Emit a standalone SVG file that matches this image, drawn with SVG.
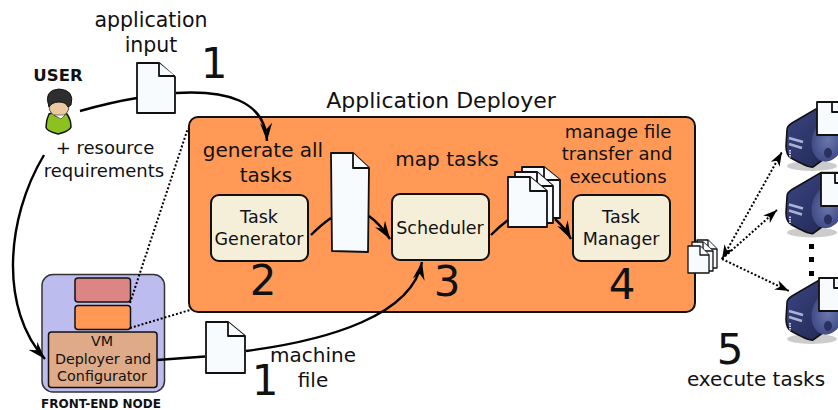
<svg xmlns="http://www.w3.org/2000/svg" width="838" height="410" viewBox="0 0 838 410">
<style>
text{font-family:"DejaVu Sans",sans-serif;fill:#111;text-anchor:middle}
.l{font-size:20.5px}.m{font-size:20px}.s{font-size:18px}.n{font-size:17.5px}.d1{font-size:14.3px}.num{font-size:42px}
.b{font-weight:bold;font-size:16.5px}.b2{font-weight:bold;font-size:12px}
.c{fill:none;stroke:#000;stroke-width:2.4}
.d{fill:none;stroke:#000;stroke-width:2;stroke-dasharray:2 2}
.doc{fill:#f8fbfd;stroke:#111;stroke-width:1.8;stroke-linejoin:round}
.mini{fill:#f8fbfd;stroke:#111;stroke-width:1.3;stroke-linejoin:round}
.task{fill:#f5eed8;stroke:#111;stroke-width:2}
</style>
<defs>
<marker id="a" markerWidth="20" markerHeight="14" refX="18" refY="7" orient="auto" markerUnits="userSpaceOnUse"><path d="M0 1L18 7L0 13L6 7Z" fill="#000"/></marker>
<marker id="a2" markerWidth="16" markerHeight="12" refX="14" refY="6" orient="auto-start-reverse" markerUnits="userSpaceOnUse"><path d="M0 1L14 6L0 11L4 6Z" fill="#000"/></marker>
<linearGradient id="sv" x1="0" y1="0" x2="1" y2="1"><stop offset="0" stop-color="#3b4684"/><stop offset="1" stop-color="#20264f"/></linearGradient>
<radialGradient id="sv2"><stop offset="0" stop-color="#6a76aa"/><stop offset="1" stop-color="#414c88"/></radialGradient>
<g id="server">
<ellipse cx="812" cy="166" rx="25" ry="5" fill="#999" opacity=".5"/>
<path d="M787 130Q787 126 792 123L821 106L838 106V149L813 167Q809 168 791 158Q786 155 786 146Z" fill="url(#sv)" stroke="#111" stroke-width="1.6"/>
<ellipse cx="828" cy="140" rx="16" ry="22" fill="url(#sv2)" transform="rotate(15 828 140)"/>
<path d="M789 138L803 142M789 144L802 148" stroke="#aab3d6" stroke-width="2.6" fill="none"/>
<path d="M790 150V158" stroke="#c9cfe5" stroke-width="2" stroke-dasharray="1.5 1"/>
<ellipse cx="828" cy="153" rx="4" ry="5" fill="#2a3160"/>
</g>
</defs>
<rect width="838" height="410" fill="#fff"/>
<g id="deployer">
<rect x="189" y="117" width="506" height="195" rx="9" fill="#ff9955" stroke="#111" stroke-width="2"/>
<text x="441" y="108" style="font-size:22px">Application Deployer</text>
<text class="m" x="263" y="157">generate all</text><text class="m" x="266" y="182">tasks</text>
<text class="m" x="447" y="166">map tasks</text>
<text class="s" x="618" y="138">manage file</text><text class="s" x="617" y="160">transfer and</text><text class="s" x="618" y="183">executions</text>
</g>
<g id="task-generator"><rect class="task" x="211" y="195" width="97" height="66" rx="8"/><text class="n" x="259" y="223">Task</text><text class="n" x="259" y="245">Generator</text><text class="num" x="263" y="295">2</text></g>
<g id="scheduler"><rect class="task" x="392" y="194" width="97" height="66" rx="8"/><text class="n" x="440" y="234">Scheduler</text><text class="num" x="447" y="296">3</text></g>
<g id="task-manager"><rect class="task" x="573" y="195" width="97" height="66" rx="8"/><text class="n" x="621" y="223">Task</text><text class="n" x="621" y="245">Manager</text><text class="num" x="622" y="299">4</text></g>
<g id="doc-tall"><path class="doc" d="M331 153H353L369 168L368 252L332 251Z"/><path class="doc" d="M353 153V168H369"/></g>
<g id="docs-stack">
<path class="doc" d="M522 167H544L560 180V218H522Z"/><path class="doc" d="M544 167V180H560"/>
<path class="doc" d="M515 172H537L553 186V223H515Z"/><path class="doc" d="M537 172V186H553"/>
<path class="doc" d="M508 177H530L547 191V227H508Z"/><path class="doc" d="M530 177V191H547"/>
</g>
<g id="doc-input"><path class="doc" d="M137 63H159L175 77V113H137Z"/><path class="doc" d="M159 63V76H175"/></g>
<g id="doc-machine"><path class="doc" d="M206 322H228L245 336V373H206Z"/><path class="doc" d="M228 322V336H245"/></g>
<g id="docs-small">
<path class="mini" d="M697 240H708L717 249V268H697Z"/><path class="mini" d="M708 240V249H717"/>
<path class="mini" d="M692 242H703L713 251V271H692Z"/><path class="mini" d="M703 242V251H713"/>
<path class="mini" d="M688 246H700L709 255V273H688Z"/><path class="mini" d="M700 246V255H709"/>
</g>
<g id="user">
<text class="b" x="58" y="81">USER</text>
<path d="M49 114Q58 110 67 114Q71 120 71 127Q70 131 58 134Q46 131 46 127Q46 120 49 114Z" fill="#8cc21f" stroke="#111" stroke-width="1.5"/>
<ellipse cx="59" cy="106" rx="10" ry="11" fill="#edc9a0" stroke="#333" stroke-width=".8"/>
<path d="M54 115L61 119L65 115Z" fill="#fff" stroke="#333" stroke-width=".6"/>
<path d="M49 107Q43 90 59 89Q75 90 71 105L68 107Q66 102 59 102Q52 102 49 107Z" fill="#2e2e2e" stroke="#111"/>
<text class="s" x="105" y="154">+ resource</text><text class="s" x="104" y="177">requirements</text>
</g>
<g id="labels">
<text class="l" x="151" y="27">application</text><text class="l" x="151" y="52">input</text>
<text class="num" x="214" y="78">1</text><text class="num" x="265" y="395">1</text>
<text class="m" x="313" y="362">machine</text><text class="m" x="313" y="387">file</text>
<text class="num" x="730" y="364">5</text><text class="m" x="756" y="386">execute tasks</text>
</g>
<g id="front-end">
<rect x="42" y="274.500" width="122.500" height="117.500" rx="11" fill="#bcbcee" stroke="#333" stroke-width="1.5"/>
<rect x="75" y="278" width="55.500" height="24" rx="3" fill="#dc8585" stroke="#111" stroke-width="1.5"/>
<rect x="75" y="305.500" width="55.500" height="24" rx="3" fill="#ff9955" stroke="#111" stroke-width="1.5"/>
<rect x="48.500" y="332" width="108.500" height="55.500" rx="3" fill="#deaa87" stroke="#111" stroke-width="1.5"/>
<text class="d1" x="102" y="346">VM</text><text class="d1" x="103" y="364">Deployer and</text><text class="d1" x="102" y="381">Configurator</text>
<text class="b2" x="101" y="408">FRONT-END NODE</text>
</g>
<g id="server-1"><use href="#server"/><path class="doc" d="M817 102H840V135H817Z"/><path class="doc" d="M832 102V112H840"/></g>
<g id="server-2"><use href="#server" y="66.500"/><path class="doc" d="M821 173H840V206H821Z"/><path class="doc" d="M835 173V183H840"/></g>
<g id="server-3"><use href="#server" y="173"/><path class="doc" d="M819 278H840V311H819Z"/><path class="doc" d="M834 278V288H840"/></g>
<g id="dots"><rect x="809" y="244" width="5" height="5"/><rect x="809" y="257" width="5" height="5"/><rect x="809" y="271" width="5" height="5"/></g>
<g id="connectors">
<path class="c" d="M80 111Q112 102 137 98"/>
<path class="c" d="M176 93C225 90 265 100 267 141" marker-end="url(#a)"/>
<path class="c" d="M44 155C5 220 0 310 45 359" marker-end="url(#a)"/>
<path class="c" d="M157 360L205 356.500"/>
<path class="c" d="M246 351C330 340 412 315 422 262" marker-end="url(#a)"/>
<path class="c" d="M311 235Q322 224 331 218"/>
<path class="c" d="M369 216Q380 224 390 239" marker-end="url(#a)"/>
<path class="c" d="M491 235Q500 226 508 220"/>
<path class="c" d="M555 219Q565 228 571 239" marker-end="url(#a)"/>
<path class="d" d="M130 303L188 128M130 328L190 310"/>
<path class="d" d="M722 259L782 152" marker-end="url(#a2)" marker-start="url(#a2)"/>
<path class="d" d="M722 259L777 210" marker-end="url(#a2)"/>
<path class="d" d="M722 259L789 291" marker-end="url(#a2)"/>
</g>
</svg>
